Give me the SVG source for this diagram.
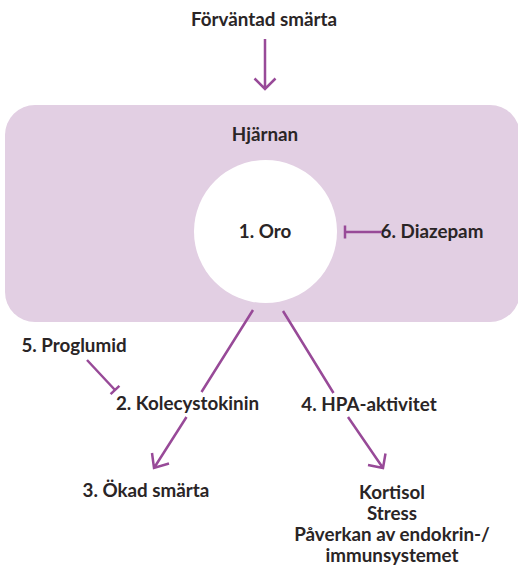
<svg xmlns="http://www.w3.org/2000/svg" width="518" height="566" viewBox="0 0 518 566">
<style>
.t{font-family:Lato,"Open Sans","Liberation Sans",sans-serif;font-weight:700;font-size:18.8px;fill:#2a2526;text-anchor:middle}
.c{stroke:#984a98;stroke-width:2.5;fill:none;stroke-linecap:butt}
</style>
<rect width="518" height="566" fill="#ffffff"/>
<g id="brain">
<rect x="5" y="105" width="515" height="217" rx="30" ry="30" fill="#e2cfe3"/>
<text class="t" x="265" y="141">Hjärnan</text>
</g>
<g id="expected-pain"><text class="t" x="264" y="26">Förväntad smärta</text></g>
<g id="oro">
<circle cx="265.5" cy="231.5" r="71.5" fill="#ffffff"/>
<text class="t" x="265" y="238">1. Oro</text>
</g>
<g id="diazepam"><text class="t" x="432" y="238">6. Diazepam</text></g>
<g id="proglumid"><text class="t" x="74" y="352">5. Proglumid</text></g>
<g id="kolecystokinin"><text class="t" x="187.5" y="410">2. Kolecystokinin</text></g>
<g id="hpa"><text class="t" x="369" y="411">4. HPA-aktivitet</text></g>
<g id="okad"><text class="t" x="146" y="497">3. Ökad smärta</text></g>
<g id="kortisol">
<text class="t" x="392" y="499">Kortisol</text>
<text class="t" x="392" y="520">Stress</text>
<text class="t" x="392" y="541">Påverkan av endokrin-/</text>
<text class="t" x="392" y="562">immunsystemet</text>
</g>
<g id="connectors">
<path class="c" d="M265 39V89M254.5 78.5L265 89L275.5 78.5"/>
<path class="c" d="M382 232H345M345 225.5V238.5"/>
<path class="c" d="M87 360L115 390M110.6 394.2L119.4 385.8"/>
<path class="c" d="M253 310L201.5 392M186.5 417L154 468M152 453L154 468L169 463.5"/>
<path class="c" d="M283 311L333.5 393M348 417L383 468M368 465L383 468L385.5 453.5"/>
</g>
</svg>
